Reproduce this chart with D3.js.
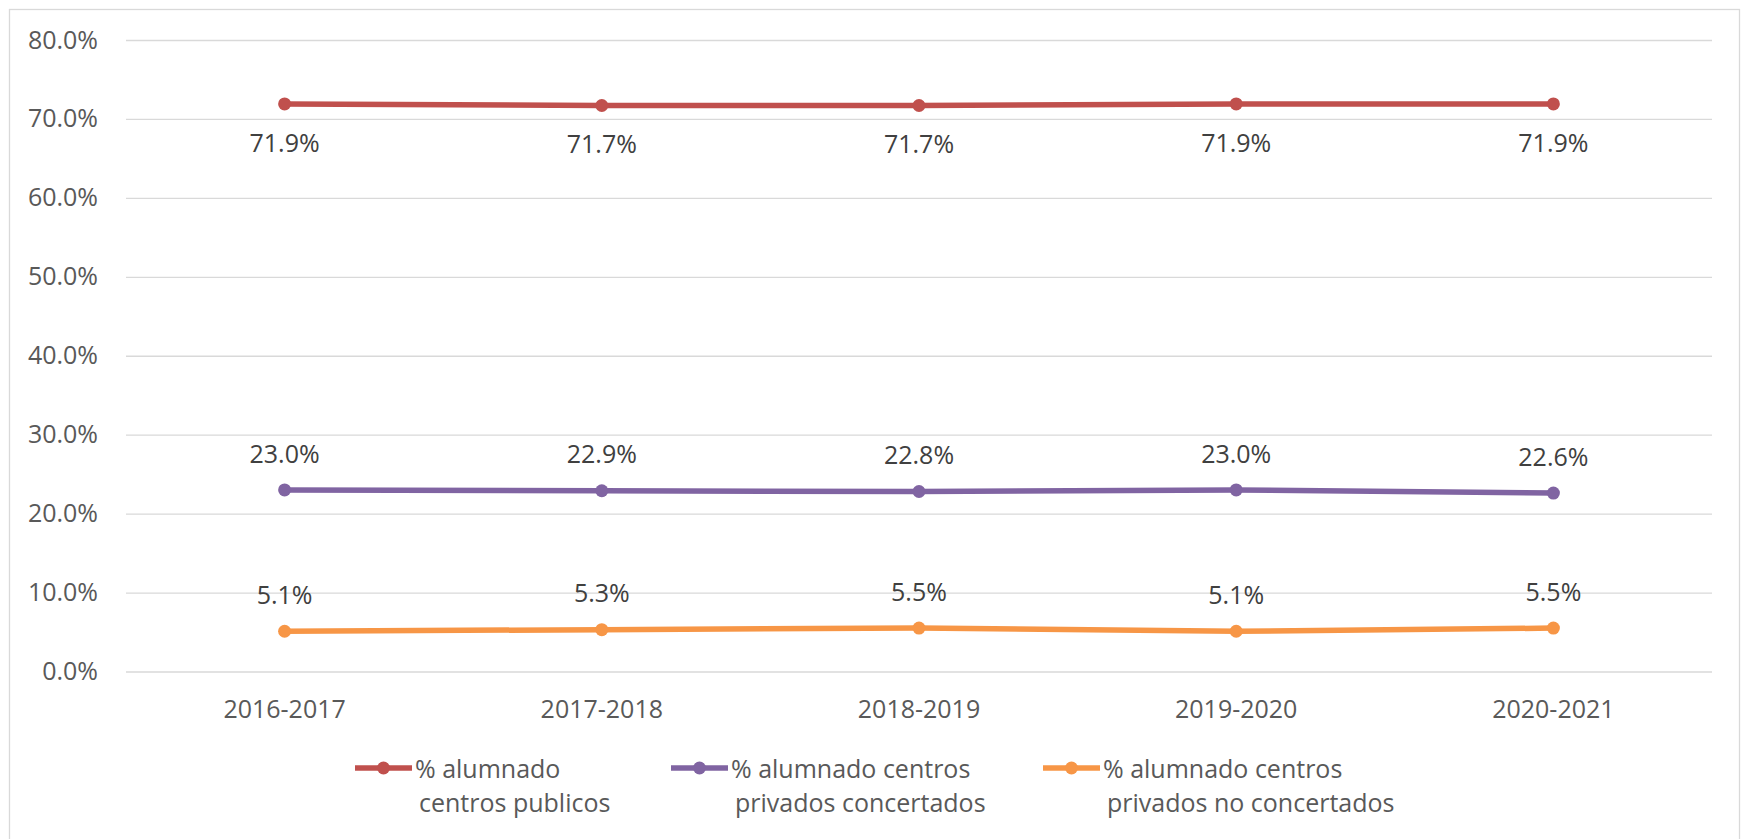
<!DOCTYPE html>
<html>
<head>
<meta charset="utf-8">
<script src="https://cdn.jsdelivr.net/npm/d3@7"></script>
<style>
  body { margin: 0; background: #fff; }
  svg text { font-family: "Open Sans", sans-serif; }
</style>
</head>
<body>
<svg id="chart" width="1745" height="839"></svg>
<script>
// chart data
const years = ["2016-2017", "2017-2018", "2018-2019", "2019-2020", "2020-2021"];
const publicos = [71.9, 71.7, 71.7, 71.9, 71.9];
const concertados = [23.0, 22.9, 22.8, 23.0, 22.6];
const noConcertados = [5.1, 5.3, 5.5, 5.1, 5.5];
const yTicks = [0, 10, 20, 30, 40, 50, 60, 70, 80];

const series = [
    { name: ["% alumnado", "centros publicos"], values: publicos, color: "#c0504d", labelPos: "below" },
    { name: ["% alumnado centros", "privados concertados"], values: concertados, color: "#8064a2", labelPos: "above" },
    { name: ["% alumnado centros", "privados no concertados"], values: noConcertados, color: "#f79646", labelPos: "above" }
];

const svg = d3.select("#chart");
const plot = { left: 126, right: 1712, top: 40, bottom: 671.5 };

// outer border of the chart area
svg.append("rect")
    .attr("x", 9.5).attr("y", 9.5)
    .attr("width", 1730).attr("height", 840)
    .attr("fill", "none")
    .attr("stroke", "#d9d9d9")
    .attr("stroke-width", 1.3);

const x = d3.scaleBand().domain(years).range([plot.left, plot.right]);
const y = d3.scaleLinear().domain([0, 80]).range([plot.bottom, plot.top]);
const fmt = (v) => d3.format(".1f")(v) + "%";

// gridlines + y axis labels
const yAxis = d3.axisLeft(y)
    .tickValues(yTicks)
    .tickSize(-(plot.right - plot.left))
    .tickPadding(28)
    .tickFormat(fmt);

const gy = svg.append("g").attr("transform", `translate(${plot.left},0)`).call(yAxis);
gy.select(".domain").remove();
gy.selectAll(".tick line").attr("stroke", "#d9d9d9").attr("stroke-width", 1.3);
gy.selectAll(".tick text")
    .attr("fill", "#595959")
    .attr("font-size", 25)
    .attr("font-family", "Open Sans, sans-serif");

// x axis labels
const xAxis = d3.axisBottom(x).tickSize(0).tickPadding(0);
const gx = svg.append("g").attr("transform", `translate(0,${plot.bottom + 38})`).call(xAxis);
gx.select(".domain").remove();
gx.selectAll(".tick text")
    .attr("fill", "#595959")
    .attr("font-size", 25)
    .attr("dy", "0.32em")
    .attr("font-family", "Open Sans, sans-serif");

const cx = (i) => x(years[i]) + x.bandwidth() / 2;

const line = d3.line()
    .x((d, i) => cx(i))
    .y((d) => y(d));

series.forEach((s) => {
    const g = svg.append("g");
    g.append("path")
        .datum(s.values)
        .attr("d", line)
        .attr("fill", "none")
        .attr("stroke", s.color)
        .attr("stroke-width", 5.5)
        .attr("stroke-linejoin", "round");

    g.selectAll("circle")
        .data(s.values)
        .join("circle")
        .attr("cx", (d, i) => cx(i))
        .attr("cy", (d) => y(d))
        .attr("r", 6.5)
        .attr("fill", s.color);

    g.selectAll("text")
        .data(s.values)
        .join("text")
        .attr("x", (d, i) => cx(i))
        .attr("y", (d) => (s.labelPos === "below" ? y(d) + 39 : y(d) - 36))
        .attr("dy", "0.35em")
        .attr("text-anchor", "middle")
        .attr("font-size", 25)
        .attr("fill", "#404040")
        .text(fmt);
});

// legend
const legendX = [355, 671, 1043];
const legendY = 768;
series.forEach((s, i) => {
    const lg = svg.append("g").attr("transform", `translate(${legendX[i]},${legendY})`);
    lg.append("line")
        .attr("x1", 0).attr("x2", 57)
        .attr("y1", 0).attr("y2", 0)
        .attr("stroke", s.color)
        .attr("stroke-width", 5.5);
    lg.append("circle")
        .attr("cx", 28.5).attr("cy", 0)
        .attr("r", 6.5)
        .attr("fill", s.color);
    lg.selectAll("text")
        .data(s.name)
        .join("text")
        .attr("x", (d, j) => (j === 0 ? 60 : 64))
        .attr("y", (d, j) => 1 + j * 34)
        .attr("dy", "0.35em")
        .attr("font-size", 25)
        .attr("fill", "#595959")
        .text((d) => d);
});
</script>
</body>
</html>
